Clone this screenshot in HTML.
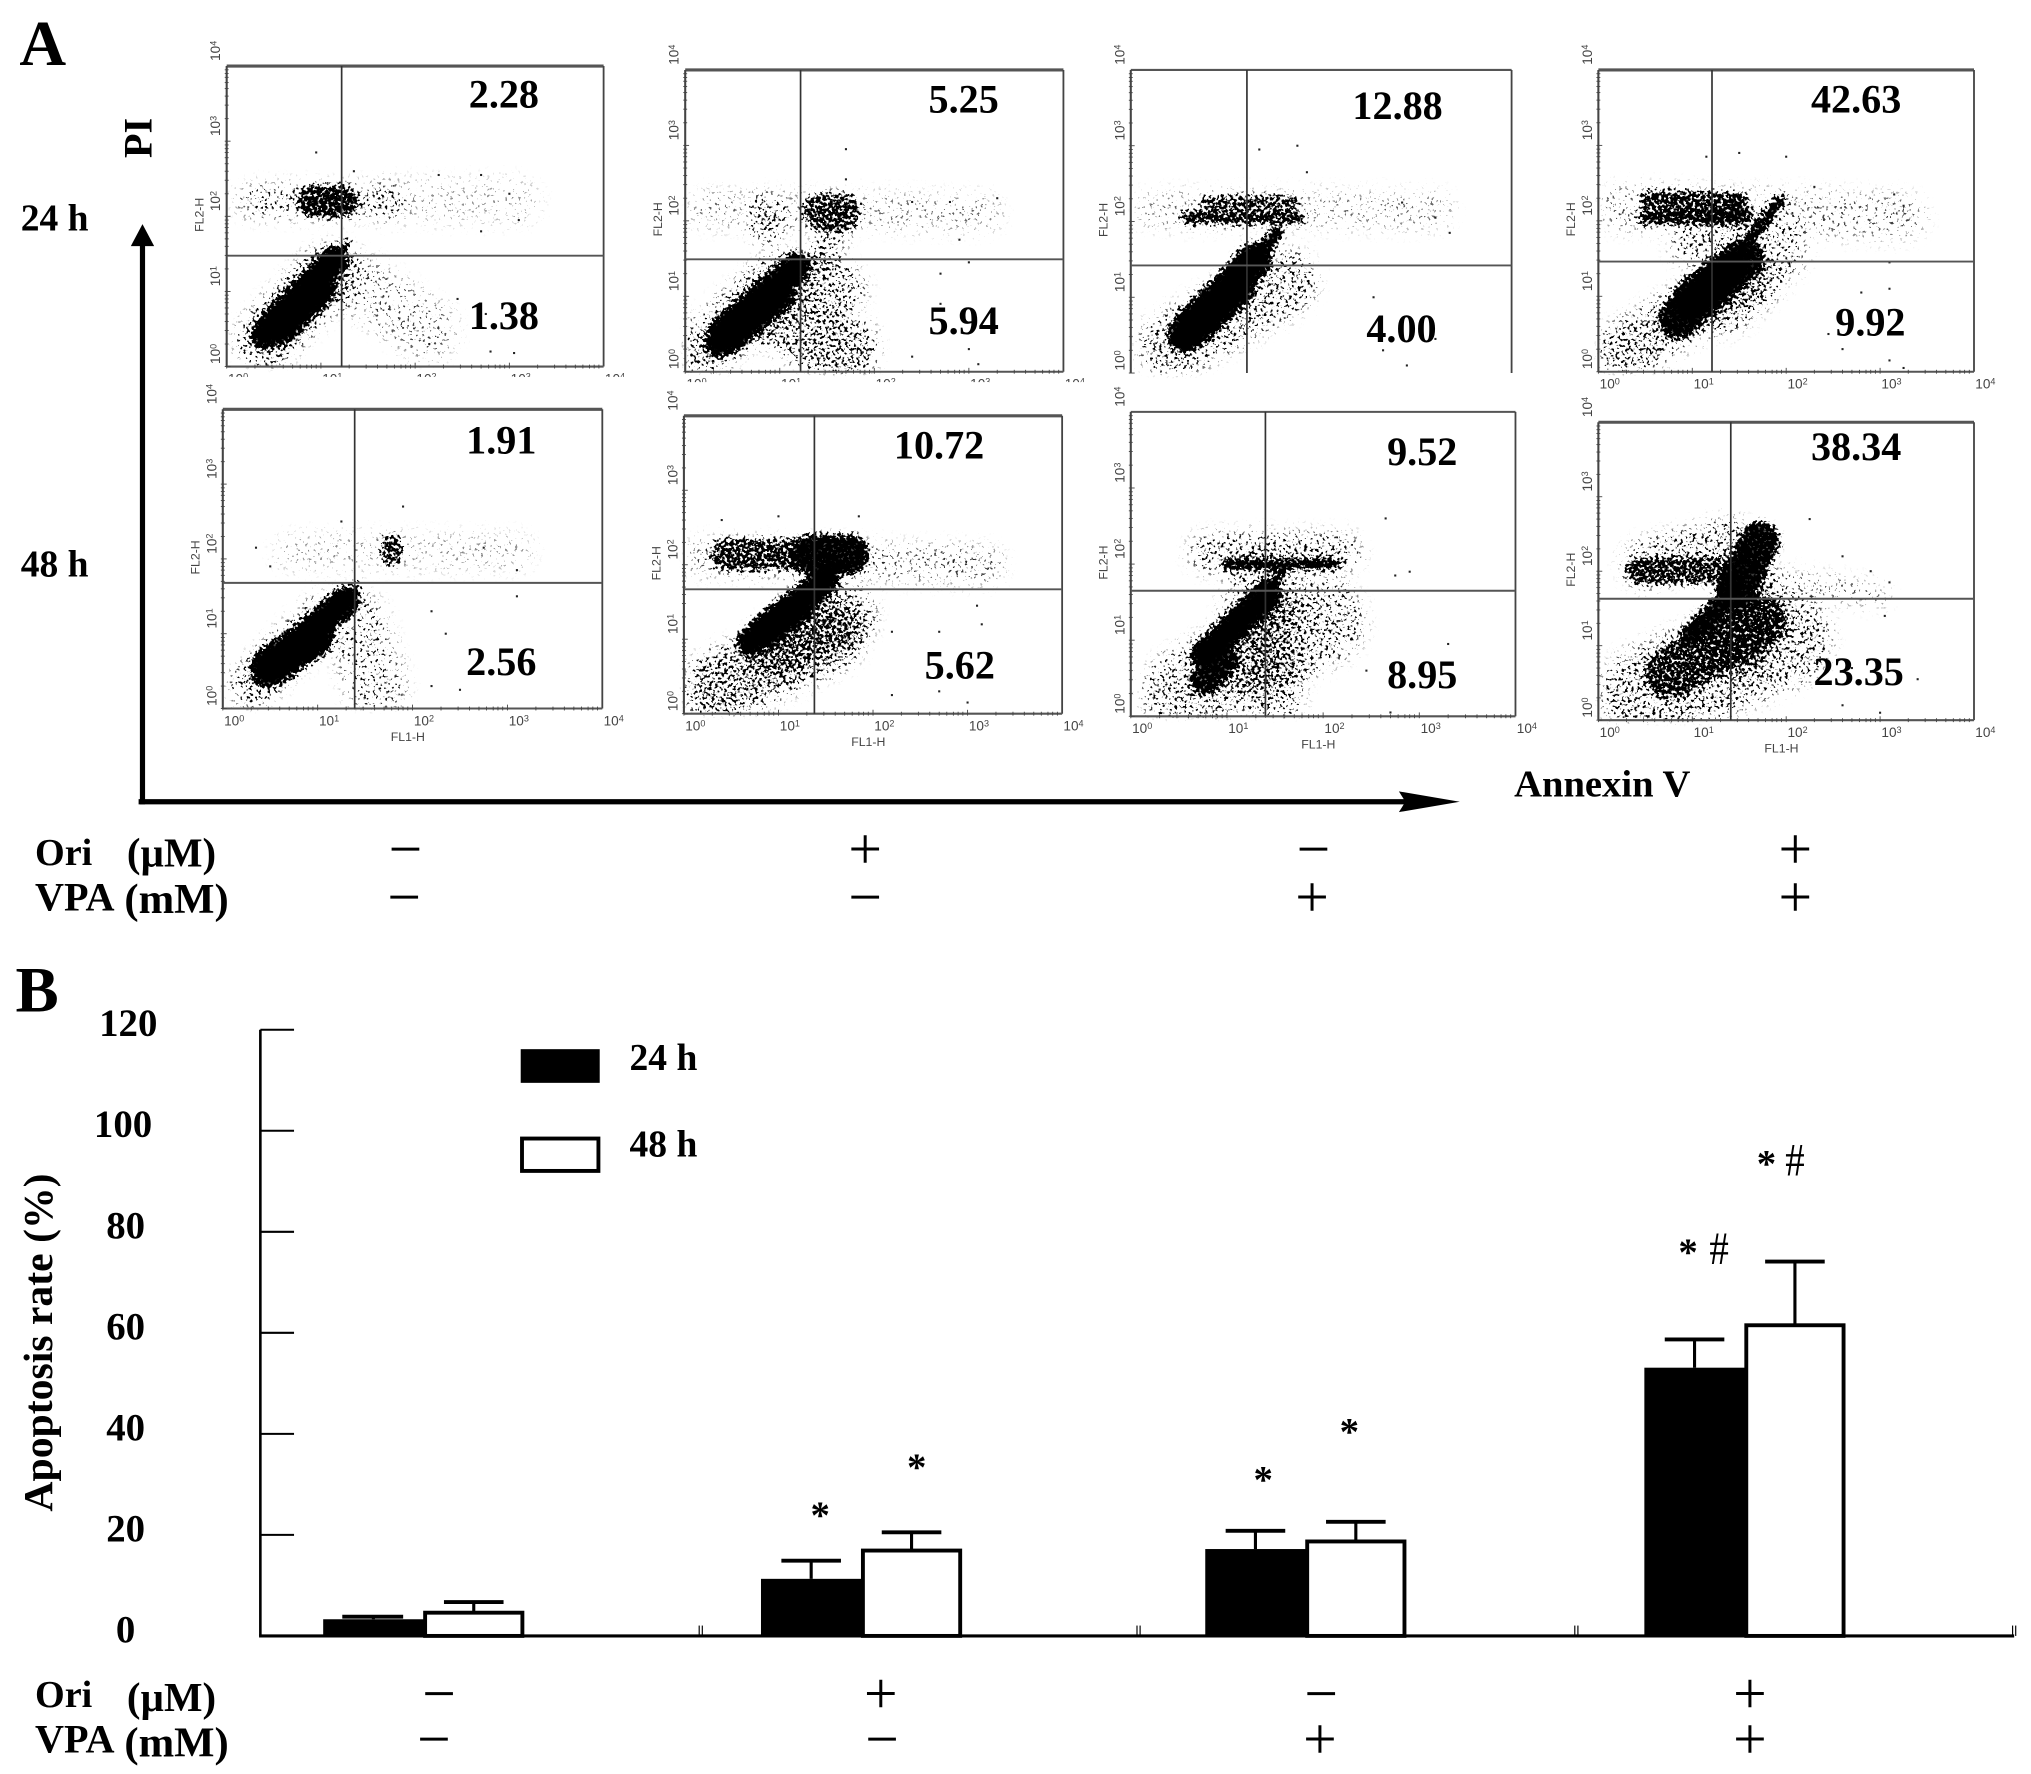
<!DOCTYPE html>
<html lang="en">
<head>
<meta charset="utf-8">
<title>Apoptosis flow cytometry and bar chart</title>
<style>
html,body{margin:0;padding:0;background:#fff;}
svg{display:block;}
.t{font-family:"Liberation Serif",serif;font-weight:bold;fill:#000;}
.s{font-family:"Liberation Serif",serif;fill:#000;}
.fc{font-family:"Liberation Sans",sans-serif;fill:#444;}
</style>
</head>
<body>
<svg id="fig" xmlns="http://www.w3.org/2000/svg" width="2031" height="1774" viewBox="0 0 1568 1369.6">
<defs>
<filter id="soft" filterUnits="userSpaceOnUse" x="130" y="30" width="1420" height="560" color-interpolation-filters="sRGB">
<feGaussianBlur stdDeviation="6"/>
</filter>
<filter id="speckle" filterUnits="userSpaceOnUse" x="130" y="30" width="1420" height="560" color-interpolation-filters="sRGB">
<feGaussianBlur in="SourceAlpha" stdDeviation="2.2" result="blob"/>
<feTurbulence type="fractalNoise" baseFrequency="0.42" numOctaves="2" seed="7" result="t"/>
<feColorMatrix in="t" type="matrix" values="0 0 0 0 0  0 0 0 0 0  0 0 0 0 0  2.6 0 0 0 -0.8" result="n"/>
<feComposite in="blob" in2="n" operator="arithmetic" k1="0" k2="1.2" k3="1" k4="-1" result="c"/>
<feComponentTransfer><feFuncA type="linear" slope="5"/></feComponentTransfer>
</filter>
</defs>
<rect x="0" y="0" width="1568" height="1370" fill="#fff"/>

<text class="t" x="15" y="50" font-size="50">A</text>
<text class="t" x="12" y="781" font-size="50">B</text>
<text class="t" x="16" y="178" font-size="29">24 h</text>
<text class="t" x="16" y="445" font-size="29">48 h</text>
<text class="t" transform="translate(117,122) rotate(-90)" font-size="31">PI</text>
<text class="t" x="1169" y="615" font-size="29.8">Annexin V</text>

<g id="flow-density" filter="url(#speckle)"></g>
<g id="flow-frames"></g>

<g>
<line x1="110" y1="621" x2="110" y2="186" stroke="#000" stroke-width="4"/>
<polygon points="110,173 119,190 101,190" fill="#000"/>
</g>
<g>
<line x1="107" y1="619" x2="1090" y2="619" stroke="#000" stroke-width="4"/>
<polygon points="1127,619 1080,611 1085,619 1080,627" fill="#000"/>
</g>

<text class="t" x="27" y="668" font-size="29.5">Ori</text>
<text class="t" x="98" y="669" font-size="31.5">(µM)</text>
<text class="t" x="27" y="703" font-size="31">VPA</text>
<text class="t" x="96" y="705" font-size="33">(mM)</text>
<g font-size="46" text-anchor="middle">
<text class="s" x="313" y="671">−</text>
<text class="s" x="668" y="671">+</text>
<text class="s" x="1014" y="671">−</text>
<text class="s" x="1386" y="671">+</text>
<text class="s" x="312" y="708">−</text>
<text class="s" x="668" y="708">−</text>
<text class="s" x="1013" y="708">+</text>
<text class="s" x="1386" y="708">+</text>
</g>

<g id="bar-chart"></g>
<text class="t" transform="translate(40,1167) rotate(-90)" font-size="32.2">Apoptosis rate (%)</text>

<rect x="402" y="810" width="61" height="26" fill="#000"/>
<rect x="403" y="879" width="59" height="25" fill="#fff" stroke="#000" stroke-width="3"/>
<text class="t" x="486" y="826" font-size="29">24 h</text>
<text class="t" x="486" y="893" font-size="29">48 h</text>

<text class="t" x="27" y="1318" font-size="29.5">Ori</text>
<text class="t" x="98" y="1321" font-size="31.5">(µM)</text>
<text class="t" x="27" y="1353" font-size="31">VPA</text>
<text class="t" x="96" y="1356" font-size="33">(mM)</text>
<g font-size="46" text-anchor="middle">
<text class="s" x="339" y="1323">−</text>
<text class="s" x="680" y="1323">+</text>
<text class="s" x="1020" y="1323">−</text>
<text class="s" x="1351" y="1323">+</text>
<text class="s" x="335" y="1358">−</text>
<text class="s" x="681" y="1358">−</text>
<text class="s" x="1019" y="1358">+</text>
<text class="s" x="1351" y="1358">+</text>
</g>
</svg>

<script>
// ---------- Bar chart data ----------
const yTicks = [0, 20, 40, 60, 80, 100, 120];
const rate24h = [3.3, 11.3, 17.2, 53.1];
const err24h = [3.8, 14.9, 20.8, 58.7];
const rate48h = [4.6, 16.9, 18.7, 61.5];
const err48h = [6.7, 20.5, 22.6, 74.1];
const sig24h = ['', '*', '*', '*'];
const sig48h = ['', '*', '*', '*'];
const hash24h = ['', '', '', '#'];
const hash48h = ['', '', '', '#'];
const sigRate24h = [0, 25, 32, 77];
const sigRate48h = [0, 34.5, 41.5, 94.5];

// ---------- Flow cytometry data: populations in log10 decades [x1,y1,x2,y2,spread,density] ----------
const decadeLabels = ['0', '1', '2', '3', '4'];
const p1Populations = [[0.41,0.43,1.14,1.42,0.3,1],[0.55,0.55,0.95,1.05,0.42,1],[1.03,1.25,1.28,1.65,0.07,0.85],[0.41,0.36,1.1,1.25,0.7,0.36],[0.92,2.2,1.22,2.2,0.34,0.72],[0.27,2.2,1.72,2.2,0.45,0.22],[1.72,2.2,3.1,2.2,0.6,0.07],[1.3,1.17,2.13,0.48,0.75,0.13]];
const p2Populations = [[0.36,0.38,1.18,1.4,0.3,1],[0.45,0.5,0.95,1.05,0.42,1],[0.2,0.3,1.0,1.2,0.7,0.3],[0.97,0.8,1.66,0.3,0.85,0.34],[1.4,1.3,1.66,1.1,0.6,0.28],[1.45,2.12,1.65,2.12,0.4,0.6],[0.86,2.12,0.86,1.9,0.45,0.28],[1.6,1.9,1.4,1.4,0.4,0.25],[0.22,2.15,3.16,2.1,0.5,0.11]];
const p3Populations = [[0.57,0.5,1.3,1.5,0.36,1],[0.65,0.6,1.1,1.15,0.42,1],[1.25,1.4,1.53,1.85,0.14,0.95],[0.44,0.36,1.6,1.2,0.8,0.27],[0.6,2.05,1.75,2.05,0.14,0.72],[0.8,2.25,1.7,2.25,0.14,0.6],[0.23,2.15,3.2,2.15,0.5,0.11]];
const p4Populations = [[0.85,0.7,1.55,1.5,0.42,0.95],[1.0,0.95,1.4,1.35,0.45,0.95],[1.4,1.4,1.94,2.28,0.11,0.98],[0.29,0.29,1.6,1.24,0.7,0.3],[1.35,0.9,1.9,1.6,0.75,0.2],[0.5,2.05,1.55,2.05,0.15,0.8],[0.55,2.28,1.5,2.25,0.2,0.66],[0.22,2.17,3.25,2.05,0.6,0.13],[1.0,1.7,1.5,2.0,0.6,0.22]];
const p5Populations = [[0.45,0.5,1.3,1.45,0.3,1],[0.5,0.55,0.95,0.95,0.42,1],[0.3,0.3,1.1,1.25,0.55,0.32],[1.3,1.5,1.42,1.65,0.08,0.7],[1.41,1.15,1.62,0.29,0.75,0.18],[1.78,2.2,1.78,2.05,0.22,0.6],[0.73,2.1,3.1,2.1,0.5,0.08]];
const p6Populations = [[0.71,0.97,1.5,1.8,0.3,1],[0.85,1.1,1.2,1.45,0.36,1],[1.45,1.75,1.65,2.0,0.12,0.85],[0.37,0.36,1.53,1.06,0.85,0.36],[1.0,0.9,1.7,1.3,0.75,0.3],[0.45,2.14,1.3,2.14,0.34,0.6],[1.35,2.14,1.75,2.14,0.42,0.95],[0.2,2.1,3.2,2.0,0.5,0.15]];
const p7Populations = [[0.77,0.81,1.42,1.6,0.3,1],[1.4,1.6,1.6,1.95,0.1,0.9],[0.77,0.47,0.97,0.73,0.3,0.9],[0.57,0.32,1.98,1.25,1.0,0.25],[1.51,0.2,1.51,1.5,0.65,0.25],[1.0,2.0,2.12,2.0,0.1,0.95],[0.8,2.15,2.2,2.15,0.5,0.27],[1.3,1.75,1.1,0.6,0.7,0.2]];
const p8Populations = [[0.98,1.14,1.45,1.75,0.22,0.95],[1.46,1.75,1.72,2.4,0.42,0.95],[0.43,2.0,1.46,2.0,0.28,0.6],[0.5,2.1,1.4,2.4,0.6,0.27],[1.74,1.93,2.98,1.67,0.34,0.17],[0.77,0.63,1.74,1.32,0.55,0.6],[0.55,0.35,1.95,1.1,1.15,0.27],[1.5,0.9,1.6,1.7,0.7,0.33]];
const p1Outliers = [[0.95,2.85],[1.35,2.6],[2.25,2.55],[2.7,2.55],[3.0,2.3],[3.1,1.95],[2.7,1.8],[2.45,0.9],[2.75,0.7],[2.8,0.2],[3.05,0.18],[2.15,0.3]];
const p2Outliers = [[1.7,2.95],[1.7,2.55],[2.4,2.25],[2.8,2.25],[3.3,2.3],[2.9,1.75],[3.0,1.45],[2.7,0.9],[2.4,0.2],[3.0,0.3],[3.1,0.1],[2.7,1.3]];
const p3Outliers = [[1.35,2.95],[1.75,3.0],[1.85,2.65],[2.85,2.25],[3.2,2.05],[3.35,1.85],[2.55,1.0],[2.85,0.7],[3.2,0.45],[2.9,0.1],[2.65,0.3]];
const p4Outliers = [[1.15,2.85],[1.5,2.9],[2.0,2.85],[2.3,2.45],[3.15,2.35],[3.25,2.2],[3.1,1.45],[2.8,1.05],[3.1,1.1],[2.6,0.3],[3.1,0.15],[2.45,0.5],[3.25,0.05]];
const p5Outliers = [[0.35,2.15],[0.5,1.9],[1.25,2.5],[1.9,2.7],[2.75,2.15],[3.1,1.85],[3.1,1.5],[2.35,1.0],[2.2,0.3],[2.5,0.25],[2.2,1.3]];
const p6Outliers = [[0.4,2.6],[1.0,2.65],[1.85,2.65],[3.1,1.45],[3.15,1.2],[2.7,1.1],[2.2,1.1],[2.2,0.25],[3.0,0.15],[2.7,0.3]];
const p7Outliers = [[2.65,2.6],[2.9,1.9],[2.75,1.85],[3.3,0.95],[2.45,0.6],[0.3,0.35],[2.7,0.05],[2.15,1.25]];
const p8Outliers = [[2.25,2.7],[2.6,2.2],[2.9,2.0],[3.1,1.85],[3.05,1.4],[2.4,1.2],[2.7,0.7],[3.4,0.55],[2.6,0.2],[3.0,0.1],[0.2,0.4]];
const gates = [[1.22,1.476],[1.22,1.49],[1.22,1.42],[1.21,1.46],[1.39,1.68],[1.38,1.67],[1.40,1.65],[1.41,1.63]];
const upperRightValues = ['2.28','5.25','12.88','42.63','1.91','10.72','9.52','38.34'];
const lowerRightValues = ['1.38','5.94','4.00','9.92','2.56','5.62','8.95','23.35'];

const NS = 'http://www.w3.org/2000/svg';
function mk(tag, attrs, parent, txt) {
  const el = document.createElementNS(NS, tag);
  for (const k in attrs) el.setAttribute(k, attrs[k]);
  if (txt !== undefined) el.textContent = txt;
  parent.appendChild(el);
  return el;
}

// ---------- Flow panels ----------
const fig = document.getElementById('fig');
const defs = fig.querySelector('defs');
const densityLayer = document.getElementById('flow-density');
const framesLayer = document.getElementById('flow-frames');

function drawFlowPanel(i, box, pops, outs, opts) {
  const pn = 'flow-panel-' + (i + 1);
  const fx = v => box.x0 + (box.x1 - box.x0) * v / 4;
  const fy = v => box.y1 - (box.y1 - box.y0) * v / 4;
  const sx = (box.x1 - box.x0) / 4;

  const cp = mk('clipPath', {id: 'clip' + i}, defs);
  mk('rect', {x: box.x0, y: box.y0, width: box.x1 - box.x0, height: box.y1 - box.y0}, cp);

  const dg = mk('g', {'clip-path': 'url(#clip' + i + ')'}, densityLayer);
  
  
  pops.forEach(p => {
    const sparse = p[5] < 0.55;
    const attrs = {x1: fx(p[0]), y1: fy(p[1]), x2: fx(p[2]), y2: fy(p[3]), stroke: '#000', 'stroke-width': sparse ? Math.max(3, p[4] * sx - 10) : p[4] * sx, 'stroke-linecap': 'round', 'stroke-opacity': p[5]};
    if (sparse) attrs.filter = 'url(#soft)';
    const l = mk('line', attrs, dg);
    
    
  });

  const g = mk('g', {}, framesLayer);
  
  

  outs.forEach(p => {
    const d = mk('rect', {x: fx(p[0]) - 0.8, y: fy(p[1]) - 0.8, width: 1.6, height: 1.6, fill: '#222'}, g);
    
    
  });

  // frame
  const topW = opts.thickTop ? 2.4 : 1.6;
  const top = mk('line', {x1: box.x0, y1: box.y0, x2: box.x1, y2: box.y0, stroke: '#555', 'stroke-width': topW}, g);
  
  
  const left = mk('line', {x1: box.x0, y1: box.y0, x2: box.x0, y2: box.y1, stroke: '#444', 'stroke-width': 1.6}, g);
  
  
  const right = mk('line', {x1: box.x1, y1: box.y0, x2: box.x1, y2: box.y1, stroke: '#444', 'stroke-width': 1.4}, g);
  
  
  if (!opts.noBottom) {
    const bot = mk('line', {x1: box.x0, y1: box.y1, x2: box.x1, y2: box.y1, stroke: '#555', 'stroke-width': 1.6}, g);
    
    
  }

  // quadrant gates
  const gate = gates[i];
  const gv = mk('line', {x1: fx(gate[0]), y1: box.y0, x2: fx(gate[0]), y2: box.y1, stroke: '#333', 'stroke-width': 1.3}, g);
  
  
  const gh = mk('line', {x1: box.x0, y1: fy(gate[1]), x2: box.x1, y2: fy(gate[1]), stroke: '#555', 'stroke-width': 1.5}, g);
  
  

  // y tick labels
  decadeLabels.forEach((lab, d) => {
    const yy = fy(d);
    const t = mk('text', {class: 'fc', 'font-size': 10.5, transform: 'translate(' + (box.x0 - 5) + ',' + (yy + (d === 0 ? -2 : -4)) + ') rotate(-90)'}, g);
    
    
    mk('tspan', {}, t, '10');
    mk('tspan', {'font-size': 7, dy: -3}, t, lab);
  });
  for (let d = 0; d < 4; d++) {
    for (const m of [0, 0.3, 0.48, 0.6, 0.7, 0.78, 0.85, 0.9, 0.95]) {
      const tk = mk('line', {x1: box.x0 - 1.5, y1: fy(d + m), x2: box.x0 + (m === 0 ? 3 : 1.5), y2: fy(d + m), stroke: '#444', 'stroke-width': 0.7}, g);
      
      
      if (!opts.noBottom) {
        const tx = mk('line', {x1: fx(d + m), y1: box.y1 + 1.5, x2: fx(d + m), y2: box.y1 - (m === 0 ? 3 : 1.5), stroke: '#444', 'stroke-width': 0.7}, g);
        
        
      }
    }
  }
  const fl2 = mk('text', {class: 'fc', 'font-size': 9.5, 'text-anchor': 'middle', transform: 'translate(' + (box.x0 - 18) + ',' + fy(2.02) + ') rotate(-90)'}, g, 'FL2-H');
  
  

  // x tick labels
  if (!opts.noBottom) {
    decadeLabels.forEach((lab, d) => {
      const t = mk('text', {class: 'fc', 'font-size': 10.5, x: fx(d) + 1, y: box.y1 + 13}, g);
      
      
      mk('tspan', {}, t, '10');
      mk('tspan', {'font-size': 7, dy: -3}, t, lab);
    });
  }
  if (opts.xTitle) {
    const fl1 = mk('text', {class: 'fc', 'font-size': 9.5, 'text-anchor': 'middle', x: fx(1.95), y: box.y1 + 25}, g, 'FL1-H');
    
    
  }
  if (opts.clipX) {
    const mask = mk('rect', {x: box.x0 - 8, y: box.y1 + 8, width: box.x1 - box.x0 + 30, height: 10, fill: '#fff'}, g);
    
    
  }

  // quadrant values
  const ur = mk('text', {class: 't', 'font-size': 31, 'text-anchor': 'middle', x: opts.urx, y: opts.ury}, g, upperRightValues[i]);
  
  
  const lr = mk('text', {class: 't', 'font-size': 31, 'text-anchor': 'middle', x: opts.lrx, y: opts.lry}, g, lowerRightValues[i]);
  
  
}

drawFlowPanel(0, {x0:175,x1:466,y0:51,y1:283}, p1Populations, p1Outliers, {thickTop:true, clipX:true, urx:389, ury:83, lrx:389, lry:254});
drawFlowPanel(1, {x0:529,x1:821,y0:54,y1:287}, p2Populations, p2Outliers, {thickTop:true, clipX:true, urx:744, ury:87, lrx:744, lry:258});
drawFlowPanel(2, {x0:873,x1:1167,y0:54,y1:288}, p3Populations, p3Outliers, {noBottom:true, urx:1079, ury:92, lrx:1082, lry:264});
drawFlowPanel(3, {x0:1234,x1:1524,y0:54,y1:287}, p4Populations, p4Outliers, {thickTop:true, urx:1433, ury:87, lrx:1444, lry:259});
drawFlowPanel(4, {x0:172,x1:465,y0:316,y1:547}, p5Populations, p5Outliers, {thickTop:true, xTitle:true, urx:387, ury:350, lrx:387, lry:521});
drawFlowPanel(5, {x0:528,x1:820,y0:321,y1:551}, p6Populations, p6Outliers, {thickTop:true, xTitle:true, urx:725, ury:354, lrx:741, lry:524});
drawFlowPanel(6, {x0:873,x1:1170,y0:318,y1:553}, p7Populations, p7Outliers, {xTitle:true, urx:1098, ury:359, lrx:1098, lry:531});
drawFlowPanel(7, {x0:1234,x1:1524,y0:326,y1:556}, p8Populations, p8Outliers, {thickTop:true, xTitle:true, urx:1433, ury:355, lrx:1435, lry:529});

// ---------- Bar chart ----------
const chart = document.getElementById('bar-chart');
const yScale = v => 1263 - v * 3.9;
const groupX = i => 327 + 340 * i + (i === 1 ? -2 : 0) + (i === 2 ? 1 : 0);
const barW = 77.5;

const yAxis = mk('line', {x1: 201, y1: yScale(120), x2: 201, y2: yScale(0), stroke: '#000', 'stroke-width': 2}, chart);


const xAxis = mk('line', {x1: 200, y1: yScale(0), x2: 1555, y2: yScale(0), stroke: '#000', 'stroke-width': 2.4}, chart);



yTicks.forEach(v => {
  if (v > 0) {
    const tick = mk('line', {x1: 201, y1: yScale(v), x2: 227, y2: yScale(v), stroke: '#000', 'stroke-width': 1.6}, chart);
    
    
  }
  const labX = v === 120 ? 99 : v === 100 ? 95 : 97;
  const lab = mk('text', {class: 't', 'font-size': 30, 'text-anchor': 'middle', x: labX, y: yScale(v) + 5}, chart, String(v));
  
  
});

for (let i = 0; i < 4; i++) {
  const cx = 541 + 338 * i;
  [-1.2, 1.2].forEach(off => {
    const t = mk('line', {x1: cx + off, y1: yScale(0), x2: cx + off, y2: yScale(0) - 8, stroke: '#000', 'stroke-width': 0.9}, chart);
    
    
  });
}

function drawBarSeries(values, errors, sig, hash, sigRates, filled, series, starShift, hashShift) {
  values.forEach((v, i) => {
    const left = filled ? groupX(i) - barW : groupX(i);
    const mid = left + barW / 2;
    const stem = mk('line', {x1: mid, y1: yScale(v), x2: mid, y2: yScale(errors[i]), stroke: '#000', 'stroke-width': 2.4}, chart);
    
    
    const cap = mk('line', {x1: mid - (i === 0 && filled ? 24 : 23), y1: yScale(errors[i]), x2: mid + 23, y2: yScale(errors[i]), stroke: '#000', 'stroke-width': 3}, chart);
    
    
    const bar = mk('rect', {x: left + (filled ? 0 : 1.2), y: yScale(v), width: barW - (filled ? 0 : 2.4), height: yScale(0) - yScale(v), fill: filled ? '#000' : '#fff', stroke: '#000', 'stroke-width': filled ? 0 : 3}, chart);
    
    
    if (sig[i]) {
      const s = mk('text', {class: 't', 'font-size': 30, 'text-anchor': 'middle', x: mid + starShift(i), y: yScale(sigRates[i]) + 14}, chart, sig[i]);
      
      
    }
    if (hash[i]) {
      const h = mk('text', {class: 's', 'font-size': 36, 'text-anchor': 'middle', textLength: 15, lengthAdjust: 'spacingAndGlyphs', x: mid + hashShift, y: yScale(sigRates[i]) + 13}, chart, hash[i]);
      
      
    }
  });
}
drawBarSeries(rate24h, err24h, sig24h, hash24h, sigRate24h, true, '24h', i => (i === 3 ? -5 : i === 1 ? 7 : 6), 19);
drawBarSeries(rate48h, err48h, sig48h, hash48h, sigRate48h, false, '48h', i => (i === 3 ? -22 : i === 2 ? -5 : 4), 0);
</script>
</body>
</html>
